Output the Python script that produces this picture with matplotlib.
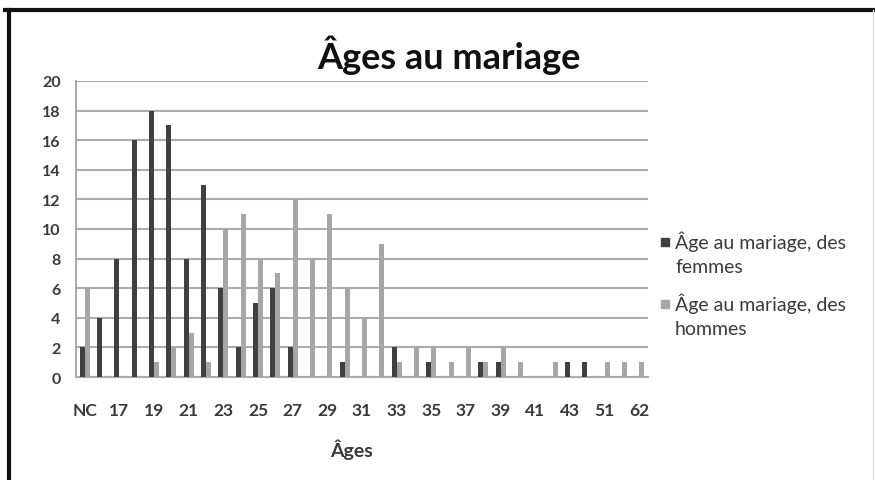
import matplotlib

matplotlib.use("Agg")
import matplotlib.pyplot as plt
import numpy as np
from matplotlib.lines import Line2D
from matplotlib.patches import Rectangle

plt.rcParams["font.family"] = ["Lato", "DejaVu Sans"]

# categories on the x axis (only every other one gets a label)
ages = ["NC", "16", "17", "18", "19", "20", "21", "22", "23", "24", "25",
        "26", "27", "28", "29", "30", "31", "32", "33", "34", "35", "36",
        "37", "38", "39", "40", "41", "42", "43", "45", "51", "55", "62"]
femmes = [2, 4, 8, 16, 18, 17, 8, 13, 6, 2, 5,
          6, 2, 0, 0, 1, 0, 0, 2, 0, 1, 0,
          0, 1, 1, 0, 0, 0, 1, 1, 0, 0, 0]
hommes = [6, 0, 0, 0, 1, 2, 3, 1, 10, 11, 8,
          7, 12, 8, 11, 6, 4, 9, 1, 2, 2, 1,
          2, 1, 2, 1, 0, 1, 0, 0, 1, 1, 1]
y_ticks = list(range(0, 21, 2))
legend_labels = ["Âge au mariage, des\nfemmes", "Âge au mariage, des\nhommes"]

DARK = "#404040"
LIGHT = "#a6a6a6"
GRID = "#ababab"
TEXT = "#3a3a3a"

fig = plt.figure(figsize=(8.75, 4.81), dpi=100)
ax = fig.add_axes([76 / 875, 1 - 378 / 481, 572 / 875, 296 / 481])

x = np.arange(len(ages))
w = 0.29
ax.bar(x - w / 2, femmes, width=w, color=DARK, zorder=3)
ax.bar(x + w / 2, hommes, width=w, color=LIGHT, zorder=3)

ax.set_xlim(-0.5, len(ages) - 0.5)
ax.set_ylim(0, 20)
ax.set_yticks(y_ticks)
ax.set_xticks(x[::2])
ax.set_xticklabels(ages[::2])
ax.yaxis.grid(True, color=GRID, linewidth=1.5, zorder=0)
ax.tick_params(axis="both", length=0, colors=TEXT)
ax.tick_params(axis="x", pad=18, labelsize=12.5)
ax.tick_params(axis="y", pad=11, labelsize=11.5)
for lab in ax.get_xticklabels() + ax.get_yticklabels():
    lab.set_fontweight("bold")

for side in ["top", "right"]:
    ax.spines[side].set_visible(False)
for side in ["left", "bottom"]:
    ax.spines[side].set_color(GRID)
    ax.spines[side].set_linewidth(1.5)

fig.text(449 / 875, 1 - 55 / 481, "Âges au mariage", ha="center", va="center",
         fontsize=26, fontweight="bold", color="#111111")
fig.text(351 / 875, 1 - 450 / 481, "Âges", ha="center", va="center",
         fontsize=14, fontweight="bold", color=TEXT)

# legend drawn by hand so the swatch sits on the first text line
for i, (lab, col) in enumerate(zip(legend_labels, [DARK, LIGHT])):
    y_top = 232 + i * 62
    fig.add_artist(Rectangle((661 / 875, 1 - (y_top + 15) / 481), 8 / 875, 8 / 481,
                             transform=fig.transFigure, color=col))
    fig.text(675 / 875, 1 - y_top / 481, lab, ha="left", va="top",
             fontsize=14, color=TEXT, linespacing=1.45)

# screenshot frame
fig.add_artist(Line2D([5 / 875, 873 / 875], [1 - 11 / 481] * 2,
                      transform=fig.transFigure, color="#111111", linewidth=3))
fig.add_artist(Line2D([8.5 / 875] * 2, [1 - 11 / 481, 0],
                      transform=fig.transFigure, color="#111111", linewidth=3))
fig.add_artist(Line2D([873 / 875] * 2, [1 - 11 / 481, 0],
                      transform=fig.transFigure, color="#dddddd", linewidth=1))

fig.savefig("out.png", dpi=100)
